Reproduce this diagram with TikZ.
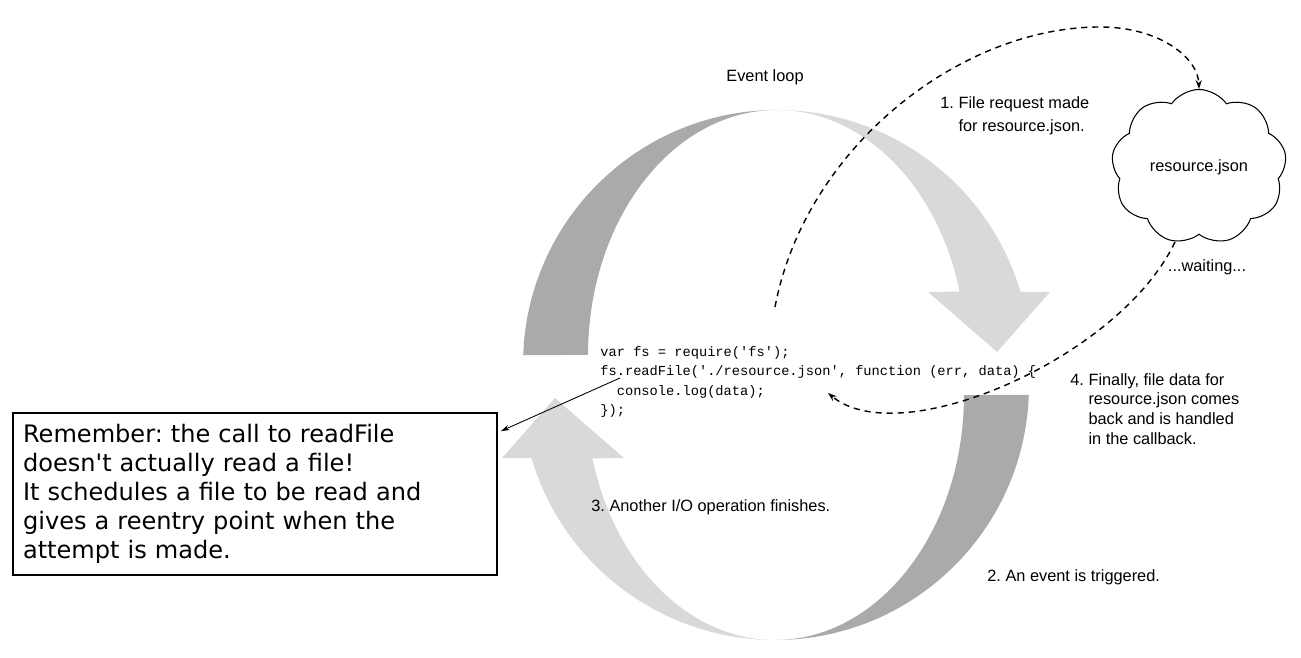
\documentclass[tikz,border=0pt]{standalone}
\usepackage{fontspec}
\setmainfont{Liberation Sans}
\newfontfamily\codefont{Liberation Mono}
\newfontfamily\notefont{DejaVu Sans}
\usetikzlibrary{arrows.meta,shapes.symbols}
\definecolor{loopdark}{RGB}{170,170,170}
\definecolor{looplight}{RGB}{217,217,217}
\frenchspacing

\begin{document}
\begin{tikzpicture}[x=0.02cm,y=0.02cm]
  \tikzset{ lbl/.style={inner sep=0pt, font=\fontsize{9.3}{11.2}\selectfont},
    flow/.style={dash pattern=on 3.5pt off 2.8pt, line width=0.8pt,
      -{Stealth[length=5pt,width=3.5pt]}},
    halfloop/.pic={
      \fill[loopdark] (-252.8,19.9) arc[start angle=178, end angle=90, radius=254]
        arc[start angle=90, end angle=180, x radius=189, y radius=245] -- cycle;
      \fill[looplight] (1,265) arc[start angle=90, end angle=16.5, radius=254]
        -- (274,83) -- (221,23) -- (152,83) -- (183.6,83.4)
        arc[start angle=15, end angle=90, x radius=189, y radius=245] -- cycle;
    },
  }
  \useasboundingbox (0,0) rectangle (1301,658);

  % the two halves of the loop
  \pic at (776,283) {halfloop};
  \pic[rotate=180] at (776,283) {halfloop};

  \node[lbl] (evloop) at (765,581) {Event loop};
  \node[lbl, anchor=west, align=left, font=\fontsize{9.3}{13}\selectfont] (req) at (940,542)
    {1. File request made\\\hphantom{1.~}for resource.json.};
  \node[cloud, draw, line width=0.6pt, cloud puffs=9, cloud puff arc=110,
    minimum width=3.5cm, minimum height=2.35cm, lbl] (cloud) at (1199,491) {resource.json};
  \node[lbl] (wait) at (1207,391) {...waiting...};
  \node[lbl, anchor=west, align=left] (back) at (1070,249)
    {4. Finally, file data for\\\hphantom{4.~}resource.json comes\\
     \hphantom{4.~}back and is handled\\\hphantom{4.~}in the callback.};
  \node[lbl, anchor=west] (other) at (591,151) {3. Another I/O operation finishes.};
  \node[lbl, anchor=west] (trig) at (987,81) {2. An event is triggered.};

  \node[anchor=west, inner sep=0pt, align=left,
    font=\codefont\fontsize{7.8}{10.9}\selectfont] (code) at (600,276)
    {var fs = require('fs');\\fs.readFile('./resource.json', function (err, data) \{\\
     \hphantom{xx}console.log(data);\\\});};

  \node[draw, line width=1pt, minimum width=9.68cm, minimum height=3.24cm,
    text width=9.28cm, inner sep=0.2cm, align=left,
    font=\notefont\fontsize{13.7}{16.6}\selectfont] (note) at (255,164)
    {Remember: the call to readFile\\doesn't actually read a file!\\
     It schedules a file to be read and\\gives a reentry point when the\\
     attempt is made.};

  % request, waiting and callback
  \coordinate (reqstart) at (775,351);
  \coordinate (cbentry) at (828,265);
  \coordinate (fsdot) at (620,280);
  \draw[flow] (reqstart) .. controls (805,510) and (960,631) .. (1100,631)
    .. controls (1160,631) and (1198,600) .. (cloud.north);
  \draw[flow] ([shift={(-24,-7)}]cloud.south) .. controls (1120,300) and (900,205) .. (cbentry);
  \draw[line width=0.5pt, -{Stealth[length=5pt,width=3pt]}] (fsdot) -- ([shift={(3,-19)}]note.north east);
\end{tikzpicture}
\end{document}
